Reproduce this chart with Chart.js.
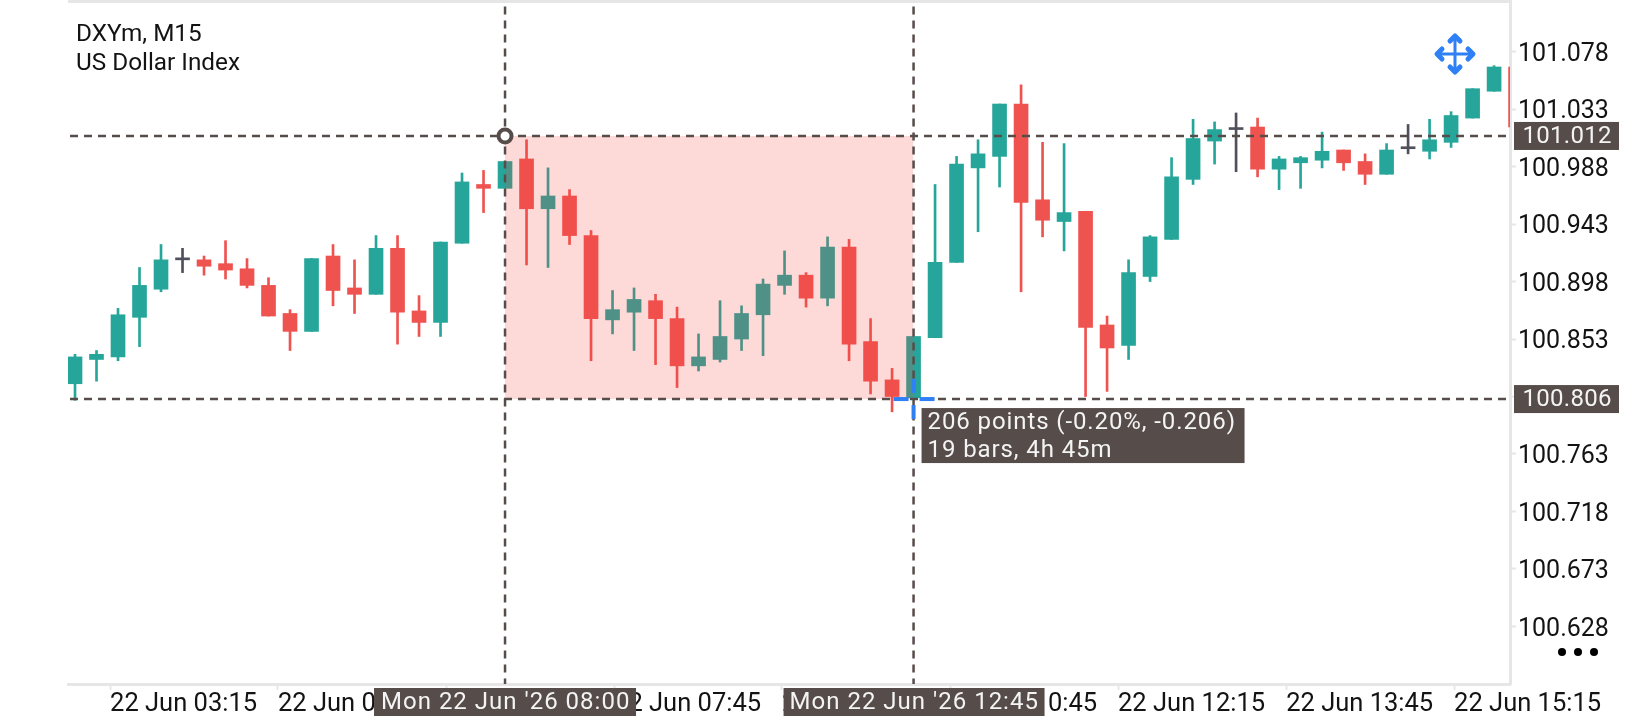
<!DOCTYPE html>
<html>
<head>
<meta charset="utf-8">
<title>DXYm, M15</title>
<script src="https://cdn.jsdelivr.net/npm/chart.js@4"></script>
<style>
  html, body { margin: 0; padding: 0; background: #fff; }
  canvas { display: block; }
</style>
</head>
<body>
<canvas id="myChart" width="1640" height="720"></canvas>
<script>
// 15 minute candles
const open = [100.818,100.837,100.839,100.870,100.892,100.915,100.915,100.912,100.908,100.895,100.873,100.859,100.918,100.893,100.888,100.924,100.875,100.866,100.928,100.974,100.971,100.994,100.955,100.965,100.934,100.868,100.874,100.883,100.869,100.832,100.837,100.853,100.872,100.895,100.903,100.885,100.925,100.851,100.821,100.807,100.854,100.913,100.987,100.996,101.037,100.962,100.945,100.953,100.864,100.848,100.902,100.931,100.978,101.008,101.017,101.019,100.986,100.991,100.993,101.001,100.992,100.982,101.002,101.000,101.007,101.026,101.047,101.066];
const high = [100.841,100.844,100.877,100.909,100.927,100.924,100.918,100.930,100.916,100.901,100.876,100.916,100.927,100.915,100.934,100.934,100.887,100.929,100.983,100.985,100.992,101.009,100.987,100.970,100.938,100.891,100.893,100.888,100.878,100.857,100.883,100.879,100.900,100.922,100.905,100.933,100.931,100.869,100.830,100.855,100.974,100.996,101.009,101.037,101.052,101.007,101.006,100.953,100.871,100.915,100.934,100.995,101.025,101.023,101.030,101.026,100.996,100.996,101.015,101.001,100.998,101.006,101.021,101.025,101.031,101.049,101.067,101.066];
const low = [100.805,100.820,100.836,100.847,100.890,100.905,100.903,100.900,100.893,100.871,100.844,100.859,100.879,100.873,100.888,100.849,100.855,100.855,100.928,100.952,100.971,100.911,100.909,100.927,100.836,100.857,100.844,100.833,100.815,100.828,100.835,100.844,100.840,100.888,100.878,100.879,100.836,100.810,100.796,100.807,100.854,100.913,100.937,100.972,100.890,100.933,100.922,100.808,100.812,100.837,100.898,100.931,100.974,100.990,100.984,100.980,100.970,100.971,100.987,100.985,100.974,100.982,100.998,100.994,101.003,101.026,101.047,101.019];
const close = [100.839,100.841,100.872,100.895,100.915,100.915,100.910,100.907,100.895,100.871,100.859,100.916,100.891,100.888,100.924,100.874,100.866,100.929,100.976,100.971,100.992,100.955,100.965,100.934,100.869,100.876,100.884,100.869,100.832,100.839,100.855,100.873,100.896,100.903,100.885,100.925,100.849,100.820,100.808,100.855,100.913,100.990,100.998,101.037,100.960,100.946,100.952,100.862,100.846,100.905,100.933,100.980,101.010,101.017,101.017,100.986,100.994,100.995,101.000,100.991,100.982,101.001,101.002,101.009,101.028,101.049,101.066,101.019];

const priceTicks = [101.078,101.033,100.988,100.943,100.898,100.853,100.808,100.763,100.718,100.673,100.628];
const timeTickLabels = ["22 Jun 03:15","22 Jun 04:45","22 Jun 06:15","22 Jun 07:45","22 Jun 09:15","22 Jun 10:45","22 Jun 12:15","22 Jun 13:45","22 Jun 15:15"];
const timeTickBars = [1.63,9.44,17.26,25.07,32.88,40.7,48.51,56.33,64.14];

// measure tool
const startBar = 20, endBar = 39;
const startPrice = 101.012, endPrice = 100.806;
const startLabel = "Mon 22 Jun '26 08:00", endLabel = "Mon 22 Jun '26 12:45";
const measureText = ["206 points (-0.20%, -0.206)", "19 bars, 4h 45m"];
const titleText = ["DXYm, M15", "US Dollar Index"];

const UP = "#26a69a", DOWN = "#ef5350", DOJI = "#50505c", TAG = "#564c4a", BLUE = "#2f80f5", EDGE = "#e6e6e6";
const FONT = "Roboto, sans-serif";

const bars = open.map((_, i) => i);
const candleColor = bars.map(i => open[i] === close[i] ? DOJI : (close[i] > open[i] ? UP : DOWN));

const dashed = { type: "line", borderColor: TAG, borderWidth: 2.5, borderDash: [8, 6], pointRadius: 0, order: 1 };

const overlayPlugin = {
  id: "overlay",
  afterDraw(chart) {
    const { ctx, chartArea: area, scales: { x, y } } = chart;
    const x0 = x.getPixelForValue(startBar), x1 = x.getPixelForValue(endBar);
    const y0 = y.getPixelForValue(startPrice), y1 = y.getPixelForValue(endPrice);
    ctx.save();

    // top edge of the plot, the other two are the axis borders
    ctx.fillStyle = EDGE;
    ctx.fillRect(area.left, 0, area.right - area.left + 2, 3);

    // title
    ctx.fillStyle = "#131313";
    ctx.font = "24.3px " + FONT;
    ctx.textBaseline = "middle";
    ctx.fillText(titleText[0], 76, 35);
    ctx.fillText(titleText[1], 76, 64);

    // start handle
    ctx.beginPath();
    ctx.arc(x0, y0, 6.5, 0, Math.PI * 2);
    ctx.fillStyle = "#fff";
    ctx.fill();
    ctx.lineWidth = 4;
    ctx.strokeStyle = TAG;
    ctx.stroke();

    // end cross
    ctx.fillStyle = BLUE;
    ctx.fillRect(x1 - 20, y1 - 2, 15, 4);
    ctx.fillRect(x1 + 6, y1 - 2, 15, 4);
    ctx.fillRect(x1 - 2, y1 - 20, 4, 14);
    ctx.fillRect(x1 - 2, y1 + 6, 4, 14);

    // tags
    const tag = (text, bx, by, bw, bh, tx) => {
      ctx.fillStyle = TAG;
      ctx.fillRect(bx, by, bw, bh);
      ctx.fillStyle = "#f4f4f4";
      ctx.fillText(text, tx, by + bh / 2 + 1);
    };
    ctx.font = "24px " + FONT;
    ctx.letterSpacing = "0.3px";
    tag(startPrice.toFixed(3), 1514, y0 - 14, 105, 28, 1522.5);
    tag(endPrice.toFixed(3), 1514, y1 - 14, 105, 28, 1522.5);
    ctx.letterSpacing = "1px";
    tag(startLabel, x0 - 131, 688, 262, 28, x0 - 124);
    tag(endLabel, x1 - 130, 688, 261, 28, x1 - 124);

    // measure box
    ctx.letterSpacing = "0.9px";
    ctx.fillStyle = TAG;
    ctx.fillRect(x1 + 8, y1 + 9, 323, 55);
    ctx.fillStyle = "#f4f4f4";
    ctx.fillText(measureText[0], x1 + 14, y1 + 24);
    ctx.fillText(measureText[1], x1 + 14, y1 + 52);
    ctx.letterSpacing = "0px";

    // move icon
    const mx = 1455, my = 54, arm = 18, head = 5;
    ctx.strokeStyle = BLUE;
    ctx.lineCap = "round";
    ctx.lineJoin = "round";
    ctx.lineWidth = 3;
    ctx.beginPath();
    ctx.moveTo(mx - arm, my); ctx.lineTo(mx + arm, my);
    ctx.moveTo(mx, my - arm); ctx.lineTo(mx, my + arm);
    ctx.stroke();
    ctx.lineWidth = 5;
    ctx.beginPath();
    ctx.moveTo(mx - head, my - arm + head); ctx.lineTo(mx, my - arm); ctx.lineTo(mx + head, my - arm + head);
    ctx.moveTo(mx - head, my + arm - head); ctx.lineTo(mx, my + arm); ctx.lineTo(mx + head, my + arm - head);
    ctx.moveTo(mx - arm + head, my - head); ctx.lineTo(mx - arm, my); ctx.lineTo(mx - arm + head, my + head);
    ctx.moveTo(mx + arm - head, my - head); ctx.lineTo(mx + arm, my); ctx.lineTo(mx + arm - head, my + head);
    ctx.stroke();

    // menu dots
    ctx.fillStyle = "#000";
    [1562, 1578, 1594].forEach(dx => {
      ctx.beginPath();
      ctx.arc(dx, 652, 4, 0, Math.PI * 2);
      ctx.fill();
    });
    ctx.restore();
  },
};

new Chart(document.getElementById("myChart"), {
  data: {
    datasets: [
      {
        type: "bar",
        label: "Wicks",
        data: bars.map(i => ({ x: i, y: [low[i], high[i]] })),
        backgroundColor: candleColor,
        barThickness: 2,
        grouped: false,
        order: 4,
      },
      {
        type: "bar",
        label: "Bodies",
        data: bars.map(i => ({ x: i, y: [open[i], close[i]] })),
        backgroundColor: candleColor,
        barThickness: 14,
        minBarLength: 2,
        grouped: false,
        order: 3,
      },
      {
        type: "line",
        label: "Range",
        data: [{ x: startBar, y: startPrice }, { x: endBar, y: startPrice }],
        borderWidth: 0,
        pointRadius: 0,
        backgroundColor: "rgba(244,67,54,0.2)",
        fill: { value: endPrice },
        order: 2,
      },
      { ...dashed, label: "Start price", data: [{ x: -0.233, y: startPrice }, { x: 70, y: startPrice }] },
      { ...dashed, label: "End price", data: [{ x: -0.233, y: endPrice }, { x: 70, y: endPrice }] },
      { ...dashed, label: "Start time", data: [{ x: startBar, y: 100 }, { x: startBar, y: 102 }] },
      { ...dashed, label: "End time", data: [{ x: endBar, y: 100 }, { x: endBar, y: 102 }] },
    ],
  },
  plugins: [overlayPlugin],
  options: {
    responsive: false,
    animation: false,
    layout: { padding: { top: 3, left: 68 } },
    plugins: { legend: { display: false }, tooltip: { enabled: false } },
    scales: {
      x: {
        type: "linear",
        offset: false,
        min: -0.326,
        max: 66.74,
        border: { color: EDGE, width: 3 },
        grid: { offset: false, drawOnChartArea: false, tickLength: 6, tickColor: EDGE, tickWidth: 2 },
        afterBuildTicks(scale) { scale.ticks = timeTickBars.map(value => ({ value })); },
        afterFit(scale) { scale.height = 36; scale.paddingLeft = 0; scale.paddingRight = 0; },
        ticks: {
          autoSkip: false,
          maxRotation: 0,
          align: "start",
          padding: -1,
          color: "#131313",
          font: { family: FONT, size: 25.5 },
          callback: (value, index) => timeTickLabels[index],
        },
      },
      y: {
        position: "right",
        min: 100.5829,
        max: 101.1161,
        border: { color: EDGE, width: 3 },
        grid: { drawOnChartArea: false, tickLength: 6, tickColor: EDGE, tickWidth: 2 },
        afterBuildTicks(scale) { scale.ticks = priceTicks.map(value => ({ value })); },
        afterFit(scale) { scale.width = 130; scale.paddingTop = 0; scale.paddingBottom = 0; },
        ticks: {
          autoSkip: false,
          padding: 2,
          labelOffset: 3,
          color: "#131313",
          font: { family: FONT, size: 25 },
          callback: value => value.toFixed(3),
        },
      },
    },
  },
});
</script>
</body>
</html>
